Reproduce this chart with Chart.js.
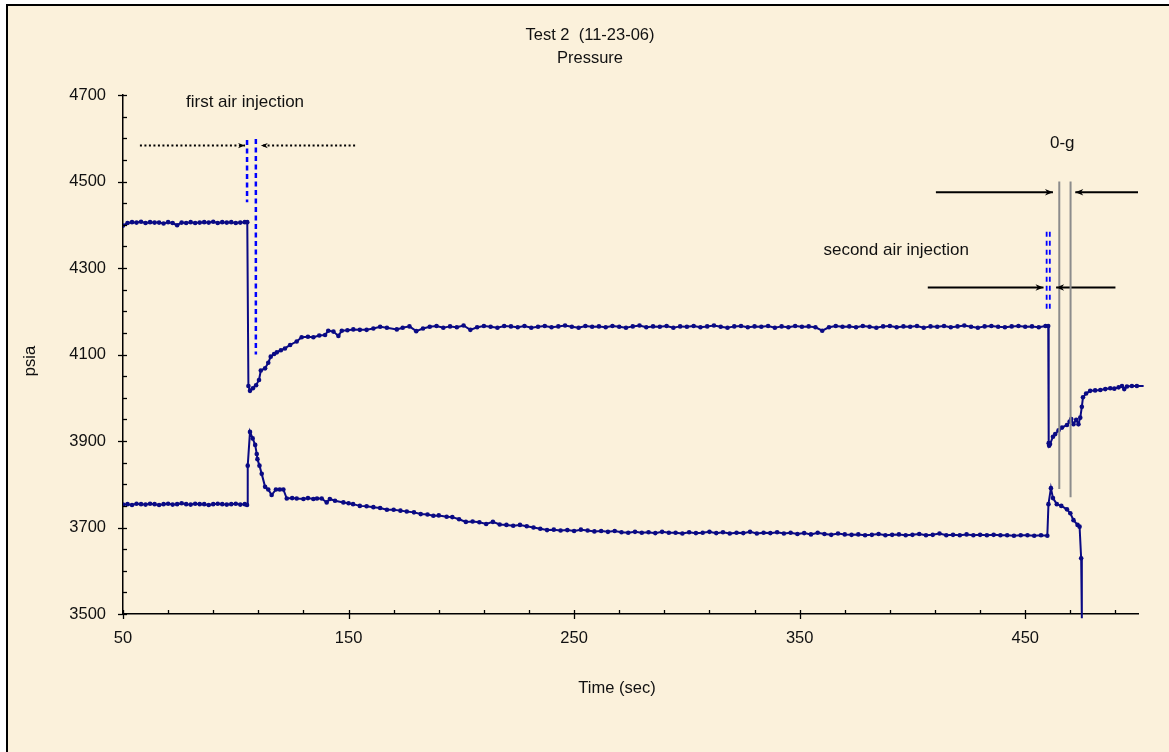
<!DOCTYPE html>
<html>
<head>
<meta charset="utf-8">
<script src="https://cdn.jsdelivr.net/npm/chart.js@4.4.1/dist/chart.umd.min.js"></script>
<style>
  html, body { margin: 0; padding: 0; background: #fff; width: 1169px; height: 752px; overflow: hidden; }
  #frame { position: absolute; left: 6px; top: 4px; width: 1200px; height: 800px;
           border-left: 2px solid #000; border-top: 2px solid #000; background: #fbf1db; }
  #myChart { position: absolute; left: 0; top: 0; }
</style>
</head>
<body>
<div id="frame"></div>
<canvas id="myChart" width="1169" height="752"></canvas>
<script>
const xTickLabels = [50, 150, 250, 350, 450];
const yTickLabels = [3500, 3700, 3900, 4100, 4300, 4500, 4700];

// upper trace (psia)
const upperTime = [
  50, 52, 54, 56, 58, 60, 62, 64, 66, 68, 70, 72, 74, 76, 78, 80, 82, 84, 86, 88, 90, 92, 94, 96, 98, 100, 102, 104,
  105.1, 105.6, 106.3, 107.6, 109.0, 110.3, 111.1, 113, 114.4, 115.5, 117, 118.2, 120, 121.8, 124.1, 127, 129.2, 132,
  134.4, 137, 139.6, 141, 143.3, 145.5, 147, 149.5, 152.1, 155, 158, 161, 164, 167, 171.4,
  174, 177, 180, 183, 186, 189, 192, 195, 198, 201, 204, 207, 210, 213, 216, 219, 222, 225, 228, 231, 234, 237, 240,
  243, 246, 249, 252, 255, 258, 261, 264, 267, 270, 273, 276, 279, 282, 285, 288, 291, 294, 297, 300, 303, 306, 309,
  312, 315, 318, 321, 324, 327, 330, 333, 336, 339, 342, 345, 348, 351, 354, 357, 360, 363, 366, 369, 372, 375, 378,
  381, 384, 387, 390, 393, 396, 399, 402, 405, 408, 411, 414, 417, 420, 423, 426, 429, 432, 435, 438, 441, 444, 447,
  450, 453, 456, 459,
  460.2, 460.4, 460.6, 461.0, 462.3, 463.3, 464.8, 466.3, 468.5, 469.7, 470.4, 471.4, 472.6, 473.6, 474.4, 475.1,
  475.6, 477, 478.8, 481, 483.3, 485.5, 487.7, 489.5, 491.4, 492.9, 493.9, 495.1, 497.3, 499.5, 502.5
];
const upperPsia = [
  4398, 4404, 4406, 4405, 4407, 4404, 4406, 4405, 4405, 4403, 4406, 4404, 4399, 4405, 4404, 4406, 4404, 4405, 4406, 4405,
  4407, 4404, 4406, 4405, 4406, 4404, 4405, 4406,
  4406, 4027, 4016, 4022, 4029, 4041, 4063, 4068, 4081, 4095, 4101, 4105, 4110, 4114, 4122, 4130, 4140, 4141,
  4140, 4144, 4145, 4155, 4153, 4143, 4155, 4156, 4158, 4157, 4157, 4160, 4164, 4162, 4158,
  4162, 4165, 4154, 4160, 4164, 4166, 4162, 4165, 4163, 4167,
  4157, 4163, 4166, 4164, 4162, 4166, 4165, 4163, 4166, 4162,
  4164, 4166, 4163, 4165, 4167, 4164, 4162, 4166, 4164, 4165,
  4163, 4166, 4164, 4162, 4165, 4167, 4163, 4165, 4164, 4166,
  4162, 4165, 4164, 4166, 4163, 4165, 4167, 4164, 4162, 4165,
  4166, 4163, 4165, 4164, 4166, 4162, 4165, 4163, 4166, 4164,
  4165, 4163, 4155, 4163, 4166, 4164, 4165, 4163, 4166, 4164,
  4162, 4165, 4166, 4163, 4165, 4164, 4166, 4162, 4165, 4164,
  4166, 4163, 4165, 4167, 4164, 4162, 4165, 4166, 4164, 4163,
  4165, 4166, 4164, 4165, 4163, 4166,
  4166, 3895, 3889, 3893, 3910, 3916, 3925, 3931, 3937, 3945, 3951, 3939, 3949, 3939, 3954, 3979,
  4001, 4010, 4016, 4017, 4018, 4020, 4022, 4021, 4024, 4027, 4020, 4026, 4027, 4027, 4027
];

// lower trace (psia)
const lowerTime = [
  50, 52, 54, 56, 58, 60, 62, 64, 66, 68, 70, 72, 74, 76, 78, 80, 82, 84, 86, 88, 90, 92, 94, 96, 98, 100, 102, 104,
  105.0, 105.3, 106.3, 107.5, 108.6, 109.3, 109.6, 110.5, 111.5, 113, 114.4, 115.9, 117.8, 119.5, 121.1, 122.6, 125,
  127, 130, 132, 134.4, 136, 138.1, 140.3, 141.7, 144, 147.7, 150, 152, 155, 158, 161, 164, 167, 170, 173, 175.8,
  179, 182, 185, 187.6, 190, 193.5,
  196, 199, 202, 205, 208, 211, 214, 217, 220, 223, 226, 229, 232, 235, 238, 241, 244, 247, 250, 253, 256, 259, 262,
  265, 268, 271, 274, 277, 280, 283, 286, 289, 292, 295, 298, 301, 304, 307, 310, 313, 316, 319, 322, 325, 328, 331,
  334, 337, 340, 343, 346, 349, 352, 355, 358, 361, 364, 367, 370, 373, 376, 379, 382, 385, 388, 391, 394, 397, 400,
  403, 406, 409, 412, 415, 418, 421, 424, 427, 430, 433, 436, 439, 442, 445, 448, 451, 454, 457,
  459.8, 460.3, 461.4, 462.3, 464, 466, 468.5, 470, 471.4, 473.2, 474.1, 474.8, 475.1
];
const lowerPsia = [
  3753, 3754, 3752, 3755, 3754, 3753, 3755, 3754, 3752, 3754, 3755, 3753, 3754, 3756, 3754, 3753, 3755, 3754, 3754, 3752,
  3754, 3755, 3754, 3753, 3754, 3755, 3753, 3754,
  3752, 3843, 3921, 3906, 3891, 3870, 3858, 3843, 3824, 3794, 3788, 3775, 3788, 3788, 3788, 3767, 3768,
  3767, 3766, 3768, 3766, 3767, 3767, 3758, 3766, 3762, 3758, 3756, 3754, 3750, 3749, 3747, 3745, 3741, 3741, 3739, 3737,
  3735, 3731, 3730, 3727, 3728, 3725,
  3724, 3719, 3713, 3714, 3712, 3708, 3713, 3707, 3706, 3704,
  3706, 3703, 3700, 3697, 3694, 3695, 3693, 3694, 3692, 3695,
  3693, 3691, 3692, 3690, 3692, 3689, 3688, 3690, 3688, 3689,
  3687, 3690, 3688, 3688, 3686, 3689, 3687, 3688, 3690, 3687,
  3689, 3686, 3688, 3687, 3690, 3686, 3688, 3687, 3689, 3686,
  3688, 3685, 3687, 3684, 3688, 3685, 3683, 3686, 3684, 3683,
  3684, 3682, 3683, 3685, 3682, 3683, 3684, 3682, 3683, 3685,
  3682, 3683, 3686, 3682, 3683, 3682, 3684, 3682, 3683, 3682,
  3683, 3682, 3682, 3681, 3682, 3682, 3681, 3682,
  3681, 3754, 3791, 3768, 3754, 3750, 3742, 3733, 3717, 3706, 3702, 3629, 3490
];

// vertical markers: [time, top psia, bottom psia]
const firstInjection = [[105.0, 4596, 4452], [108.9, 4598, 4100]];
const secondInjection = [[459.5, 4384, 4199], [460.9, 4384, 4199]];
const zeroG = [[465.1, 4500, 3789], [470.1, 4500, 3770]];

// arrows: [from time, to time, psia, dotted]
const arrows = [
  [57.5, 104.1, 4583, true], [152.9, 111.1, 4583, true],
  [410.4, 462.3, 4475, false], [500, 472.2, 4475, false],
  [406.8, 458.1, 4255, false], [490, 463.7, 4255, false]
];

const notes = [
  ['first air injection', 104.1, 4684],
  ['0-g', 466.4, 4589],
  ['second air injection', 392.8, 4342]
];

const NAVY = '#0a0a84';
const FONT = '"Liberation Sans", Arial, sans-serif';

const pts = (t, v) => t.map((x, i) => ({ x: x, y: v[i] }));

const datasets = [];
firstInjection.forEach(l => datasets.push({
  data: [{ x: l[0], y: l[1] }, { x: l[0], y: l[2] }],
  borderColor: '#0000ff', borderWidth: 2.5, borderDash: [5, 3.5], pointRadius: 0
}));
secondInjection.forEach(l => datasets.push({
  data: [{ x: l[0], y: l[1] }, { x: l[0], y: l[2] }],
  borderColor: '#0000ff', borderWidth: 1.8, borderDash: [5, 4], pointRadius: 0
}));
zeroG.forEach(l => datasets.push({
  data: [{ x: l[0], y: l[1] }, { x: l[0], y: l[2] }],
  borderColor: '#8c8c8c', borderWidth: 2, pointRadius: 0
}));
arrows.forEach(a => datasets.push({
  data: [{ x: a[0], y: a[2] }, { x: a[1], y: a[2] }],
  borderColor: '#000', borderWidth: 2, borderDash: a[3] ? [2, 2.5] : [], pointRadius: 0,
  clip: false
}));
datasets.push({
  data: pts(upperTime, upperPsia), borderColor: NAVY, backgroundColor: NAVY, borderWidth: 2,
  pointRadius: 2.3, pointBorderWidth: 0, pointBackgroundColor: NAVY, clip: { left: 0, top: 0, right: 8, bottom: 6 }
});
datasets.push({
  data: pts(lowerTime, lowerPsia), borderColor: NAVY, backgroundColor: NAVY, borderWidth: 2,
  pointRadius: 2.3, pointBorderWidth: 0, pointBackgroundColor: NAVY, clip: { left: 0, top: 0, right: 8, bottom: 6 }
});

const decorations = {
  id: 'decorations',
  afterDraw(chart) {
    const ctx = chart.ctx;
    const xs = chart.scales.x, ys = chart.scales.y;
    const a = chart.chartArea;
    ctx.save();
    ctx.strokeStyle = '#000';
    ctx.lineWidth = 1.3;
    // y ticks every 50, major every 200
    for (let v = ys.min; v <= ys.max; v += 50) {
      const py = Math.round(ys.getPixelForValue(v)) + 0.5;
      const major = yTickLabels.includes(v);
      ctx.beginPath();
      ctx.moveTo(a.left - (major ? 5 : 0), py);
      ctx.lineTo(a.left + 4, py);
      ctx.stroke();
    }
    // x ticks every 20, major every 100
    for (let v = xs.min; v <= xs.max; v += 20) {
      const px = Math.round(xs.getPixelForValue(v)) + 0.5;
      const major = xTickLabels.includes(v);
      ctx.beginPath();
      ctx.moveTo(px, a.bottom + (major ? 5 : 0));
      ctx.lineTo(px, a.bottom - 4);
      ctx.stroke();
    }
    // arrow heads
    ctx.fillStyle = '#000';
    arrows.forEach(ar => {
      const dir = ar[1] > ar[0] ? 1 : -1;
      const tx = xs.getPixelForValue(ar[1]);
      const ty = ys.getPixelForValue(ar[2]);
      const len = ar[3] ? 7 : 8, half = ar[3] ? 2.6 : 3.2;
      ctx.beginPath();
      ctx.moveTo(tx, ty);
      ctx.lineTo(tx - dir * len, ty - half);
      ctx.lineTo(tx - dir * len * 0.7, ty);
      ctx.lineTo(tx - dir * len, ty + half);
      ctx.closePath();
      ctx.fill();
    });
    // texts
    ctx.fillStyle = '#111';
    ctx.font = '17px ' + FONT;
    ctx.textAlign = 'center';
    ctx.textBaseline = 'middle';
    notes.forEach(n => ctx.fillText(n[0], xs.getPixelForValue(n[1]), ys.getPixelForValue(n[2])));
    ctx.font = '16.5px ' + FONT;
    ctx.fillText('Test 2  (11-23-06)', 590, 35);
    ctx.fillText('Pressure', 590, 58);
    ctx.fillText('Time (sec)', 617, 688);
    ctx.translate(30, 361);
    ctx.rotate(-Math.PI / 2);
    ctx.fillText('psia', 0, 0);
    ctx.restore();
  }
};

new Chart(document.getElementById('myChart'), {
  type: 'line',
  data: { datasets: datasets },
  options: {
    responsive: false,
    animation: false,
    layout: { padding: { left: 0, top: 95, right: 31, bottom: 0 } },
    plugins: { legend: { display: false }, tooltip: { enabled: false }, title: { display: false } },
    elements: { line: { tension: 0 } },
    scales: {
      x: {
        type: 'linear', min: 50, max: 500,
        afterBuildTicks: s => { s.ticks = xTickLabels.map(v => ({ value: v })); },
        afterFit: s => { s.height = 138; },
        grid: { display: false, drawTicks: false },
        border: { display: true, color: '#000', width: 1.5 },
        ticks: { color: '#111', font: { family: FONT, size: 16.5 }, padding: 15, maxRotation: 0,
                 callback: v => String(v) }
      },
      y: {
        type: 'linear', min: 3500, max: 4700,
        afterBuildTicks: s => { s.ticks = yTickLabels.map(v => ({ value: v })); },
        afterFit: s => { s.width = 123; },
        grid: { display: false, drawTicks: false },
        border: { display: true, color: '#000', width: 1.5 },
        ticks: { color: '#111', font: { family: FONT, size: 16.5 }, padding: 17,
                 callback: v => String(v) }
      }
    }
  },
  plugins: [decorations]
});
</script>
</body>
</html>
